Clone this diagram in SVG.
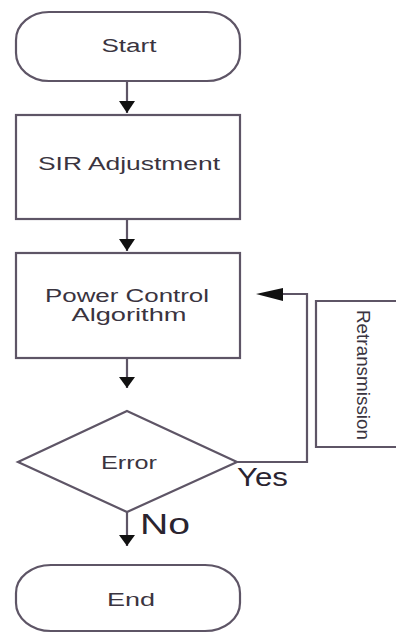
<svg xmlns="http://www.w3.org/2000/svg" width="396" height="633" viewBox="0 0 396 633">
  <style>
    .shape { fill: #ffffff; stroke: #5e5566; stroke-width: 2.2; }
    .line { fill: none; stroke: #5e5566; stroke-width: 2.2; }
    .lbl { font-family: "Liberation Sans", Arial, sans-serif; font-size: 18px; fill: #3a3440; text-anchor: middle; }
    .big { font-family: "Liberation Sans", Arial, sans-serif; fill: #2a2430; }
  </style>
  <rect width="396" height="633" fill="#ffffff"/>

  <g id="connectors">
    <line class="line" x1="127" y1="81" x2="127" y2="113"/>
    <path d="M119,101 L135,101 L127,113 Z" fill="#111"/>
    <line class="line" x1="127" y1="219" x2="127" y2="251"/>
    <path d="M119,239 L135,239 L127,251 Z" fill="#111"/>
    <line class="line" x1="127" y1="358" x2="127" y2="388"/>
    <path d="M119,377 L135,377 L127,388 Z" fill="#111"/>
    <line class="line" x1="127" y1="512" x2="127" y2="546"/>
    <path d="M119,535 L135,535 L127,546 Z" fill="#111"/>
    <!-- retry loop back to the power control step -->
    <polyline class="line" points="237,462 307,462 307,294 280,294"/>
    <path d="M283,288 L283,301 L256,294 Z" fill="#111"/>
  </g>

  <g id="start">
    <rect class="shape" x="16" y="12" width="224" height="69" rx="33" ry="28"/>
    <text class="lbl" x="129" y="52" textLength="55" lengthAdjust="spacingAndGlyphs">Start</text>
  </g>

  <g id="sir-adjustment">
    <rect class="shape" x="16" y="115" width="224" height="104"/>
    <text class="lbl" x="129" y="170" textLength="182" lengthAdjust="spacingAndGlyphs">SIR Adjustment</text>
  </g>

  <g id="power-control">
    <rect class="shape" x="16" y="253" width="224" height="105"/>
    <text class="lbl" x="127" y="302" textLength="164" lengthAdjust="spacingAndGlyphs">Power Control</text>
    <text class="lbl" x="129" y="321" textLength="115" lengthAdjust="spacingAndGlyphs">Algorithm</text>
  </g>

  <g id="error">
    <polygon class="shape" points="127,411 237,462 127,512 18,462"/>
    <text class="lbl" x="129" y="469" textLength="56" lengthAdjust="spacingAndGlyphs">Error</text>
  </g>

  <g id="retransmission">
    <path class="shape" d="M398,301 L316,301 L316,447 L398,447"/>
    <text class="lbl" transform="translate(357,375) rotate(90)" x="0" y="0" textLength="130" lengthAdjust="spacingAndGlyphs">Retransmission</text>
  </g>

  <g id="end">
    <rect class="shape" x="16" y="565" width="224" height="66" rx="35" ry="28"/>
    <text class="lbl" x="131" y="606" textLength="48" lengthAdjust="spacingAndGlyphs">End</text>
  </g>

  <g id="branch-labels">
    <text class="big" x="237" y="486" font-size="25" textLength="51" lengthAdjust="spacingAndGlyphs">Yes</text>
    <text class="big" x="140" y="534" font-size="30" textLength="50" lengthAdjust="spacingAndGlyphs">No</text>
  </g>
</svg>
